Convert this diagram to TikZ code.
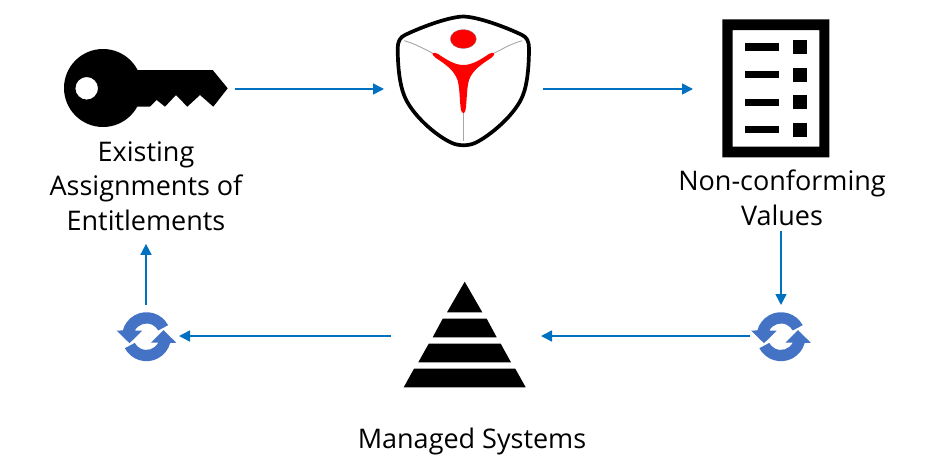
\documentclass[tikz,border=0pt]{standalone}
\usepackage{fontspec}
\setmainfont{Open Sans}
\usetikzlibrary{arrows.meta}
\definecolor{flowblue}{HTML}{0070C0}
\definecolor{syncblue}{HTML}{4472C4}
\definecolor{shieldred}{HTML}{FF0000}
\tikzset{
  flow/.style={draw=flowblue,line width=1.5pt,-{Triangle[length=11pt,width=11pt]}},
  slot/.style={inner sep=0pt,outer sep=0pt,minimum width=#1},
  caption/.style={align=center,font=\fontsize{27}{34.6}\selectfont,text=black,inner sep=0pt},
  ink/.style={fill=black,draw=none},
  syncicon/.pic={
    \begin{scope}[x=1pt,y=1pt]
      \fill[syncblue] (28:24.5pt) arc[start angle=28,end angle=165,radius=24.5pt]
        -- (-29.8,6) -- (-17,-6.5) -- (-4.3,6) -- (-11.7,6)
        arc[start angle=153,end angle=28,radius=13.2pt] -- cycle;
      \fill[syncblue,rotate=180] (28:24.5pt) arc[start angle=28,end angle=165,radius=24.5pt]
        -- (-29.8,6) -- (-17,-6.5) -- (-4.3,6) -- (-11.7,6)
        arc[start angle=153,end angle=28,radius=13.2pt] -- cycle;
    \end{scope}
  }
}
\begin{document}
\begin{tikzpicture}[x=1pt,y=-1pt]
\useasboundingbox (0,0) rectangle (927,474);
% layout slots
\node[slot=170pt,minimum height=80pt] (key) at (150,89) {};
\node[slot=159pt,minimum height=130pt] (shield) at (463.5,89) {};
\node[slot=174pt,minimum height=138pt] (doc) at (780,89) {};
\node[slot=66pt,minimum height=62pt] (syncL) at (146,336) {};
\node[slot=62pt,minimum height=62pt] (syncR) at (781,336) {};
\node[slot=150pt,minimum height=106pt] (pyr) at (466,336) {};
% key
\fill[ink,even odd rule] (103,88) circle[radius=39] (86.7,88.3) circle[radius=11.3];
\fill[ink] (130,70) -- (212.7,70) -- (227.7,88.3) -- (213.3,106.7) -- (200,95) -- (187.3,106.7)
  -- (176,95) -- (165,106.7) -- (156.7,100) -- (150,106.7) -- (130,106.7) -- cycle;
% shield
\draw[black!35,line width=.9pt] (404,40.7) .. controls (416,44) and (424,49) .. (432.3,53);
\draw[black!35,line width=.9pt] (522.3,40.7) .. controls (510,44) and (503,49) .. (494.3,53);
\draw[black!35,line width=.9pt] (463.3,113) -- (463.3,141);
\draw[black,line width=3.7pt,line join=round] (463.3,16.5)
  .. controls (480,17) and (510,29) .. (522,35)
  .. controls (527,37) and (529,42) .. (529,48)
  .. controls (529,68) and (527,85) .. (523,95)
  .. controls (516,114) and (490,136) .. (475,143)
  .. controls (468,146) and (459,146) .. (452,143)
  .. controls (436,136) and (411,114) .. (404,95)
  .. controls (400,85) and (397.7,68) .. (397.7,48)
  .. controls (397.7,42) and (400,37) .. (405,35)
  .. controls (417,29) and (447,17) .. cycle;
\fill[shieldred,draw=black!50,line width=.3pt] (463.3,39) ellipse[x radius=13,y radius=9.5];
\fill[shieldred] (432.3,53.3) .. controls (434,52) and (436,53) .. (438,54)
  .. controls (447,60) and (455,65) .. (463.3,65)
  .. controls (472,65) and (480,60) .. (489,54)
  .. controls (491,53) and (493,52) .. (494.3,53.3)
  .. controls (495,55) and (493,56) .. (491,58)
  .. controls (482,64) and (472.5,70) .. (469,80)
  .. controls (466.5,88) and (467,102) .. (465.5,110)
  .. controls (465,114) and (462,114) .. (461,110)
  .. controls (459.5,102) and (460,88) .. (457.5,80)
  .. controls (454,70) and (445,64) .. (436,58)
  .. controls (434,56) and (432,55) .. cycle;
% document
\fill[ink,even odd rule] (722.3,19.3) rectangle (829.3,157.3) (732.7,30) rectangle (819.3,146.7);
\foreach \yy in {47,74.7,102.3,129.7}{
  \fill[ink] (745,\yy-3.7) rectangle (779.3,\yy+3.7);
  \fill[ink] (793.3,\yy-7) rectangle (807,\yy+7);
}
% pyramid
\fill[ink] (464.7,281.7) -- (482.3,312.3) -- (447,312.3) -- cycle;
\fill[ink] (442.7,318.7) -- (486.7,318.7) -- (496.7,337.3) -- (432.7,337.3) -- cycle;
\fill[ink] (428.7,343.7) -- (500.7,343.7) -- (511,362.3) -- (418.3,362.3) -- cycle;
\fill[ink] (414,368.7) -- (515.3,368.7) -- (525.7,387.3) -- (403.7,387.3) -- cycle;
% sync icons
\pic at (781,336.7) {syncicon};
\pic at (146.5,336.7) {syncicon};
% captions
\node[caption] (capA) at (146,186) {Existing\\Assignments of\\Entitlements};
\node[caption] (capB) at (782,198) {Non-conforming\\Values};
\node[caption] (capC) at (472,441) {Managed Systems};
% connectors
\draw[flow,shorten <=5pt] (capB.south -| syncR.north) -- (syncR.north);
\draw[flow] (key.east) -- (shield.west);
\draw[flow] (shield.east) -- (doc.west);
\draw[flow] (syncR.west) -- (pyr.east);
\draw[flow] (pyr.west) -- (syncL.east);
\draw[flow,shorten >=13pt] (syncL.north) -- (syncL.north |- capA.south);
\end{tikzpicture}
\end{document}
